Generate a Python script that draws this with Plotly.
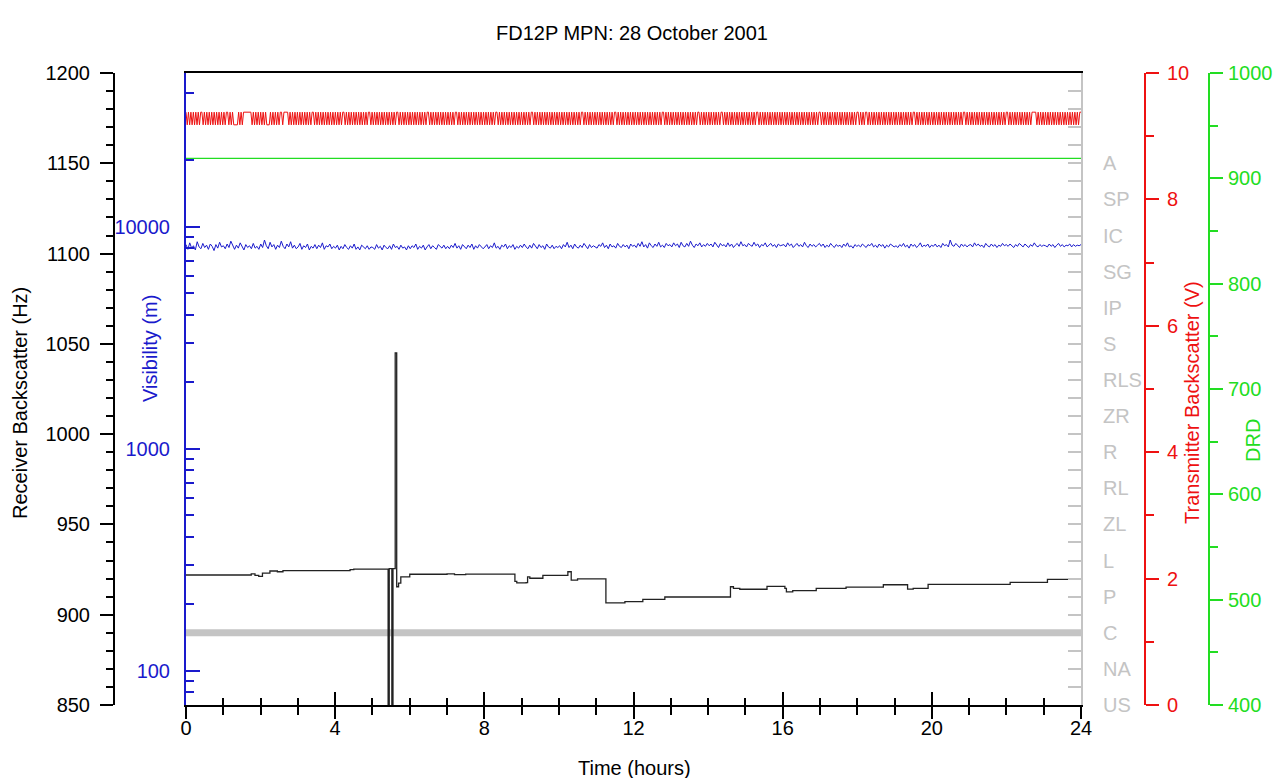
import plotly.graph_objects as go

W, H = 1274, 778

# ---------------- data ----------------
# Receiver backscatter (Hz), step series: change times (h) and values
RX_TIMES = [0.00, 1.75, 1.85, 1.95, 2.05, 2.25, 2.45, 2.60, 4.40, 4.50,
            5.42, 5.45, 5.52, 5.55, 5.61, 5.65, 5.70, 5.76, 6.00, 7.00,
            7.20, 7.50, 8.82, 8.87, 9.12, 9.16, 9.22, 9.57, 10.24, 10.33,
            10.50, 11.26, 11.77, 12.25, 12.84, 14.60, 14.68, 14.85, 15.58, 16.06,
            16.10, 16.27, 16.90, 17.70, 18.70, 19.35, 19.50, 19.90, 22.10, 23.10,
            24.00]
RX_VALUES = [922.0, 922.6, 921.8, 921.2, 923.0, 924.2, 923.8, 924.4, 925.0, 925.3,
             0.0, 925.5, 0.0, 925.5, 1045.0, 915.5, 917.5, 921.0, 922.4, 922.6,
             922.2, 922.5, 918.5, 917.6, 917.8, 921.0, 920.2, 921.8, 923.8, 919.2,
             919.8, 906.6, 907.2, 908.5, 909.8, 915.5, 914.6, 914.1, 915.7, 914.6,
             912.7, 913.3, 914.6, 915.3, 916.6, 914.2, 914.6, 916.8, 917.9, 919.6,
             919.6]

# Visibility (m), one value every 3 minutes (one row per hour)
VIS_VALUES = [
    8300, 7900, 8450, 8000, 8200, 7850, 8550, 8100, 7950, 8400, 8050, 8250, 7900, 8350, 8150, 7800, 8300, 8000, 8500, 8100,
    8200, 7950, 8350, 8050, 8600, 8150, 7900, 8250, 8000, 8450, 8100, 7850, 8300, 8050, 8200, 7950, 8400, 8000, 8150, 7900,
    8350, 8050, 8700, 8200, 7950, 8500, 8100, 8300, 7900, 8250, 8050, 8600, 8150, 7950, 8350, 8100, 8550, 8000, 8250, 7950,
    8100, 8400, 7900, 8200, 8050, 8350, 7850, 8150, 8000, 8300, 7950, 8250, 8050, 8450, 7900, 8200, 8100, 8350, 7950, 8150,
    8000, 8250, 7850, 8150, 7950, 8300, 8050, 7900, 8200, 8000, 8350, 7900, 8100, 7850, 8250, 8050, 7950, 8200, 7900, 8100,
    8050, 7900, 8300, 8000, 8150, 7850, 8250, 8050, 7950, 8200, 7900, 8350, 8050, 8150, 7900, 8250, 8000, 8100, 7850, 8200,
    7950, 8200, 8050, 8350, 7900, 8150, 8000, 8250, 7850, 8100, 8300, 7950, 8200, 8050, 7900, 8300, 8100, 8000, 8250, 7950,
    8150, 7950, 8250, 8050, 8400, 8000, 8200, 7900, 8300, 8100, 7950, 8250, 8050, 8350, 7900, 8200, 8000, 8300, 8100, 7950,
    8100, 8300, 7950, 8200, 8050, 8450, 8000, 8150, 7900, 8250, 8100, 8350, 7950, 8200, 8050, 8300, 7900, 8150, 8000, 8250,
    8050, 8350, 8100, 7950, 8250, 8000, 8400, 8150, 7950, 8300, 8050, 8200, 7900, 8350, 8100, 8000, 8250, 7950, 8150, 8050,
    8200, 7950, 8300, 8100, 8500, 8050, 8250, 7950, 8350, 8100, 8000, 8250, 8050, 8400, 8150, 7950, 8300, 8050, 8200, 8100,
    8000, 8300, 8150, 8450, 8050, 8250, 7950, 8350, 8100, 8200, 8000, 8400, 8150, 8050, 8300, 8100, 8250, 7950, 8350, 8150,
    8250, 8050, 8400, 8150, 8550, 8100, 8300, 8000, 8450, 8200, 8050, 8350, 8150, 8500, 8100, 8250, 8050, 8400, 8200, 8300,
    8100, 8450, 8200, 8350, 8050, 8500, 8200, 8100, 8400, 8150, 8600, 8250, 8050, 8350, 8200, 8450, 8100, 8300, 8150, 8400,
    8200, 8350, 8100, 8500, 8250, 8050, 8400, 8200, 8300, 8100, 8450, 8150, 8350, 8050, 8250, 8400, 8150, 8550, 8200, 8300,
    8100, 8400, 8250, 8150, 8500, 8200, 8350, 8050, 8300, 8200, 8450, 8100, 8250, 8400, 8150, 8300, 8050, 8350, 8200, 8250,
    8300, 8100, 8450, 8200, 8350, 8050, 8250, 8400, 8150, 8300, 8100, 8500, 8200, 8050, 8350, 8150, 8300, 8100, 8250, 8400,
    8150, 8350, 8050, 8250, 8100, 8400, 8200, 8050, 8300, 8150, 8250, 8050, 8350, 8150, 8450, 8100, 8200, 8000, 8300, 8150,
    8250, 8100, 8350, 8150, 8050, 8300, 8200, 8400, 8100, 8250, 8050, 8350, 8150, 8300, 8000, 8250, 8100, 8350, 8200, 8100,
    8200, 8050, 8300, 8150, 8400, 8100, 8250, 8000, 8350, 8150, 8300, 8050, 8200, 8450, 8100, 8250, 8150, 8350, 8050, 8250,
    8150, 8350, 8100, 8250, 8050, 8400, 8200, 8300, 8100, 8700, 8250, 8150, 8400, 8200, 8050, 8350, 8150, 8300, 8100, 8250,
    8300, 8100, 8450, 8200, 8350, 8150, 8250, 8050, 8400, 8200, 8100, 8350, 8150, 8300, 8050, 8250, 8150, 8400, 8200, 8300,
    8150, 8350, 8200, 8050, 8300, 8150, 8400, 8250, 8100, 8350, 8200, 8050, 8300, 8150, 8450, 8200, 8100, 8300, 8150, 8250,
    8200, 8100, 8350, 8150, 8300, 8050, 8250, 8400, 8150, 8300, 8100, 8250, 8200, 8350, 8100, 8300, 8150, 8250, 8200, 8300,
]

# Transmitter backscatter (V): two observed levels, state per 2-minute sample (1 = high)
TX_HIGH = 9.38
TX_LOW = 9.18
TX_STATES = ("1010101010101101010101010101010101101010000101011111110101010"
             "1010100010101010110111101010101010101010101101010101010101010"
             "1010101101010101010101010101101010101010101010101011010101010"
             "1010101010101011010101010101010101010110101010101010101010101"
             "0101010101101010101010101010101010101011010101010101010101010"
             "1010101010101010101101010101010101010101010101101010101010101"
             "0101010101010101010101011010101010101010101010101010110101010"
             "1010101010110101010101010101010101010101101010101010101010101"
             "0101010101010101010101010101011010101010101010101010101010101"
             "1010101101010101010101010101010101010101010101101010101010101"
             "0101010101010101010101010110101010101010101010101010101010101"
             "1010101010101010101011110101010101010101010101010101010101011")

# DRD, hourly
DRD_VALUES = [919] * 25

# Present weather code, hourly
WX_CODES = ["US", "NA", "C", "P", "L", "ZL", "RL", "R", "ZR", "RLS",
            "S", "IP", "SG", "IC", "SP", "A"]
WX_VALUES = ["C"] * 25

HOURS = list(range(25))

# ---------------- helpers ----------------
def px(x):
    return x / W


def py(y):
    return 1 - y / H


FONT = "Liberation Sans, Arial, sans-serif"
FS = 20
BLUE = "#1a1acc"
RED = "#ee1111"
GREEN = "#22dd22"
GRAY = "#c4c4c4"

X0, X1 = 186, 1081
Y_TOP, Y_BOT = 73, 705
XDOM = [px(X0), px(X1)]
YDOM = [py(Y_BOT), py(Y_TOP)]

vis_t = [i * 24 / (len(VIS_VALUES) - 1) for i in range(len(VIS_VALUES))]
tx_t = [i * 24 / (len(TX_STATES) - 1) for i in range(len(TX_STATES))]
tx_v = [TX_HIGH if s == "1" else TX_LOW for s in TX_STATES]
wx_idx = [WX_CODES.index(c) for c in WX_VALUES]

fig = go.Figure()

# main subplot: weather code (gray)
fig.add_trace(go.Scatter(x=HOURS, y=wx_idx, xaxis="x", yaxis="y", mode="lines",
                         line=dict(color=GRAY, width=7), showlegend=False))
fig.add_trace(go.Scatter(x=vis_t, y=VIS_VALUES, xaxis="x", yaxis="y2", mode="lines",
                         line=dict(color=BLUE, width=1), showlegend=False))
fig.add_trace(go.Scatter(x=RX_TIMES, y=RX_VALUES, xaxis="x", yaxis="y3", mode="lines",
                         line=dict(color="#222222", width=1.3, shape="hv"), showlegend=False))
fig.add_trace(go.Scatter(x=tx_t, y=tx_v, xaxis="x", yaxis="y4", mode="lines",
                         line=dict(color=RED, width=1), showlegend=False))
fig.add_trace(go.Scatter(x=HOURS, y=DRD_VALUES, xaxis="x2", yaxis="y5", mode="lines",
                         line=dict(color=GREEN, width=1.2), showlegend=False))

tickfont = dict(family=FONT, size=FS, color="black")

blue_minor = [v * m for m in (10, 100, 1000) for v in range(2, 10)] + [20000, 40000]
blue_minor = [v for v in blue_minor if v >= 70]

fig.update_layout(
    width=W, height=H, autosize=False,
    margin=dict(l=0, r=0, t=0, b=0, pad=0, autoexpand=False),
    paper_bgcolor="white", plot_bgcolor="white",
    font=dict(family=FONT, size=FS, color="black"),
    showlegend=False,
    xaxis=dict(domain=XDOM, range=[0, 24], anchor="y", showgrid=False, zeroline=False, automargin=False,
               tickmode="linear", tick0=0, dtick=4, ticks="outside", ticklen=12, tickwidth=2,
               tickcolor="black", showline=True, linecolor="black", linewidth=2, mirror=True,
               tickfont=tickfont, ticklabelstandoff=-8,
               minor=dict(dtick=1, tick0=0, ticks="outside", ticklen=8, tickwidth=2, tickcolor="black")),
    xaxis2=dict(range=[0, 24], overlaying="x", anchor="y", showgrid=False, zeroline=False, automargin=False,
                tickmode="linear", tick0=0, dtick=4, ticks="inside", ticklen=13, tickwidth=2,
                tickcolor="black", showline=False, showticklabels=False,
                minor=dict(dtick=1, tick0=0, ticks="inside", ticklen=7, tickwidth=2, tickcolor="black")),
    # weather code axis (right edge of the plot)
    yaxis=dict(domain=YDOM, range=[0, 17.5], anchor="x", side="right", automargin=False,
               showgrid=False, zeroline=False, tickmode="array", tickvals=list(range(len(WX_CODES))),
               ticktext=WX_CODES, ticks="inside", ticklen=13, tickwidth=2, tickcolor=GRAY,
               showline=True, linecolor=GRAY, linewidth=2,
               tickfont=dict(family=FONT, size=FS, color=GRAY), ticklabelstandoff=16,
               minor=dict(tickmode="array", tickvals=[i + 0.5 for i in range(17)] + [16, 17],
                          ticks="inside", ticklen=13, tickwidth=2, tickcolor=GRAY)),
    # visibility (log)
    yaxis2=dict(type="log", range=[1.845, 4.692], overlaying="y", anchor="x", side="left", automargin=False,
                showgrid=False, zeroline=False, tickmode="array", tickvals=[100, 1000, 10000],
                ticktext=["100", "1000", "10000"], ticks="inside", ticklen=14, tickwidth=2,
                tickcolor=BLUE, showline=True, linecolor=BLUE, linewidth=2,
                tickfont=dict(family=FONT, size=FS, color=BLUE), ticklabelstandoff=10,
                minor=dict(tickmode="array", tickvals=blue_minor, ticks="inside", ticklen=8,
                           tickwidth=2, tickcolor=BLUE)),
    # receiver backscatter
    yaxis3=dict(range=[850, 1200], overlaying="y", anchor="free", position=px(114), side="left",
                automargin=False, showgrid=False, zeroline=False, tickmode="linear", tick0=850, dtick=50,
                ticks="outside", ticklen=13, tickwidth=2, tickcolor="black",
                showline=True, linecolor="black", linewidth=2, tickfont=tickfont, ticklabelstandoff=6,
                minor=dict(dtick=10, tick0=850, ticks="outside", ticklen=7, tickwidth=2, tickcolor="black")),
    # transmitter backscatter
    yaxis4=dict(range=[0, 10], overlaying="y", anchor="free", position=px(1145), side="right",
                automargin=False, showgrid=False, zeroline=False, tickmode="linear", tick0=0, dtick=2,
                ticks="outside", ticklen=13, tickwidth=2, tickcolor=RED,
                showline=True, linecolor=RED, linewidth=2,
                tickfont=dict(family=FONT, size=FS, color=RED), ticklabelstandoff=4,
                minor=dict(dtick=1, tick0=0, ticks="outside", ticklen=8, tickwidth=2, tickcolor=RED)),
    # DRD
    yaxis5=dict(range=[400, 1000], overlaying="y", anchor="free", position=px(1209), side="right",
                automargin=False, showgrid=False, zeroline=False, tickmode="linear", tick0=400, dtick=100,
                ticks="outside", ticklen=13, tickwidth=2, tickcolor=GREEN,
                showline=True, linecolor=GREEN, linewidth=2,
                tickfont=dict(family=FONT, size=FS, color=GREEN), ticklabelstandoff=1,
                minor=dict(dtick=50, tick0=400, ticks="outside", ticklen=8, tickwidth=2, tickcolor=GREEN)),
)

ann = [
    dict(text="FD12P MPN: 28 October 2001", x=px(632), y=py(33), color="black", angle=0),
    dict(text="Time (hours)", x=px(634), y=py(768), color="black", angle=0),
    dict(text="Receiver Backscatter (Hz)", x=px(20), y=py(403), color="black", angle=-90),
    dict(text="Visibility (m)", x=px(150), y=py(349), color=BLUE, angle=-90),
    dict(text="Transmitter Backscatter (V)", x=px(1192), y=py(403), color=RED, angle=-90),
    dict(text="DRD", x=px(1253), y=py(441), color=GREEN, angle=-90),
]
for a in ann:
    fig.add_annotation(text=a["text"], x=a["x"], y=a["y"], xref="paper", yref="paper",
                       xanchor="center", yanchor="middle", showarrow=False, textangle=a["angle"],
                       font=dict(family=FONT, size=FS, color=a["color"]))

fig.write_html("out.html")
